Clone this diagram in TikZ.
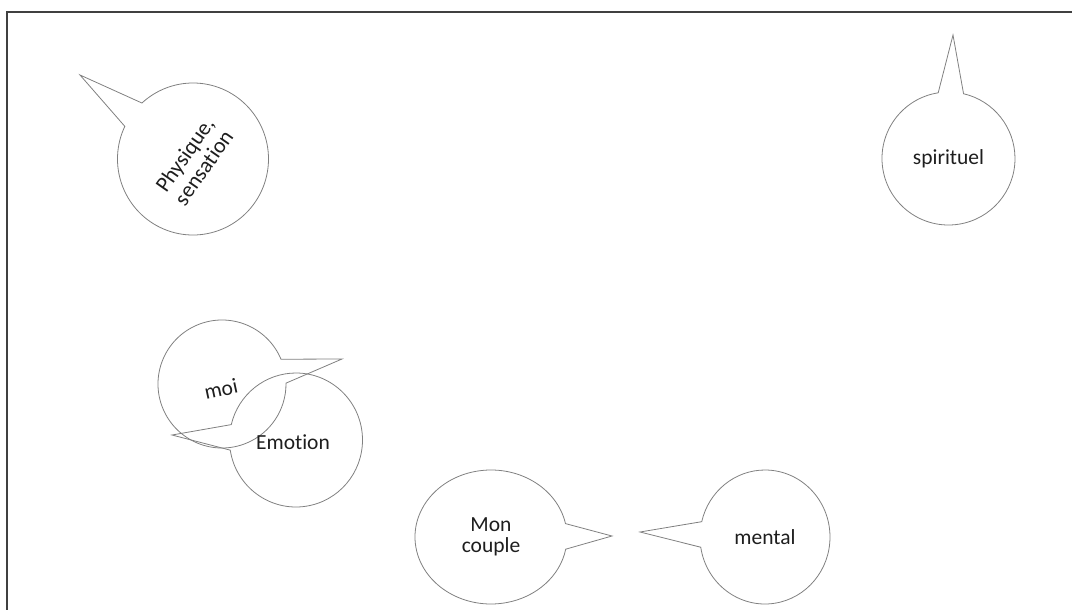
\documentclass[tikz,border=0pt]{standalone}
\usepackage{fontspec}
\setmainfont[Ligatures=NoCommon]{Carlito}
\usetikzlibrary{shapes.callouts}
\definecolor{bubbleline}{RGB}{128,128,128}
\definecolor{framecol}{RGB}{64,64,64}
\definecolor{txt}{RGB}{30,30,30}
\begin{document}
\begin{tikzpicture}[x=1pt,y=-1pt,
  bubble/.style={ellipse callout, draw=bubbleline, line width=0.8pt, inner sep=0pt,
    callout pointer arc=22, font=\fontsize{21.5}{21.5}\selectfont, text=txt, align=center},
  lbl/.style={font=\fontsize{21.5}{21.5}\selectfont, text=txt, align=center, inner sep=0pt}]
\useasboundingbox (0,0) rectangle (1072,610);
% frame
\coordinate (ftl) at (7,12);
\coordinate (ftr) at (1072,12);
\coordinate (fbl) at (7,610);
\draw[framecol, line width=1.6pt] (ftr) -- (ftl) -- (fbl);
% bubbles
\node[bubble, minimum width=151pt, minimum height=152pt,
  callout absolute pointer={(80,75)}] (phys) at (193,159) {};
\node[lbl, rotate=55, font=\fontsize{22}{23}\selectfont] (physt) at (194,161) {Physique,\\sensation};
\node[bubble, minimum width=133pt, minimum height=133pt,
  callout absolute pointer={(953,35)}] (spir) at (948.5,158.5) {spirituel};
\node[bubble, minimum width=128pt, minimum height=128pt,
  callout absolute pointer={(342,359)}] (moi) at (222,384) {};
\node[lbl, rotate=12] (moit) at (221,389) {moi};
\node[bubble, minimum width=133pt, minimum height=134pt,
  callout absolute pointer={(172,435)}] (emo) at (296,440) {};
\node[lbl] (emot) at (293,442) {Emotion};
\node[bubble, minimum width=152pt, minimum height=134pt,
  callout absolute pointer={(612,536)}] (couple) at (491,537) {Mon\\couple};
\node[bubble, minimum width=130pt, minimum height=134pt,
  callout absolute pointer={(640,532)}] (mental) at (765,537) {mental};
\end{tikzpicture}
\end{document}
